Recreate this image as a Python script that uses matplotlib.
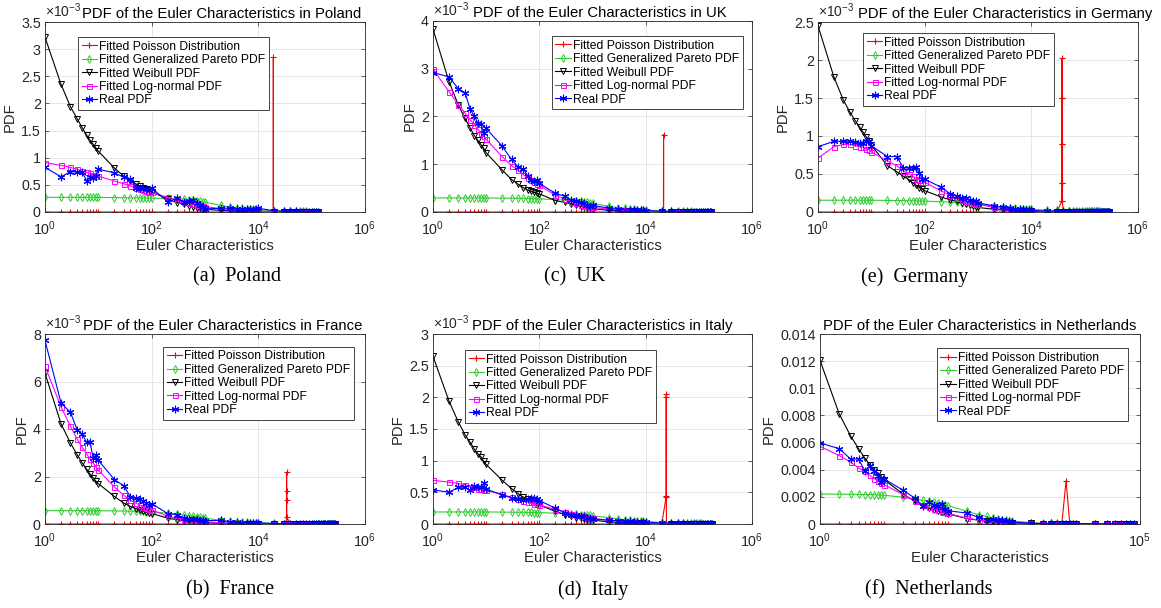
import matplotlib
matplotlib.use("Agg")
import matplotlib.pyplot as plt
from matplotlib.ticker import FixedLocator, FuncFormatter, NullLocator, LogFormatterMathtext

plt.rcParams['font.family'] = ['Liberation Sans', 'DejaVu Sans']
plt.rcParams['mathtext.fontset'] = 'custom'
plt.rcParams['mathtext.rm'] = 'Liberation Sans'
plt.rcParams['mathtext.it'] = 'Liberation Sans:italic'
plt.rcParams['mathtext.bf'] = 'Liberation Sans:bold'

# Euler characteristic bins shared by every country (up to 1e4)
X_HEAD = [1, 2, 3, 4, 5, 6, 7, 8, 9, 10,
          20, 30, 40, 50, 60, 70, 80, 90, 100,
          200, 300, 400, 500, 600, 700, 800, 900, 1000,
          2000, 3000, 4000, 5000, 6000, 7000, 8000, 9000, 10000]

# ---------------- Poland (PDF values in 1e-3) ----------------
PL_TAIL = [20000, 30000, 40000, 50000, 60000, 70000, 80000, 90000, 100000,
           110000, 120000, 130000]
PL_POIS_X = [19000, 19100, 19200]
PL_POIS_Y = [0.0, 2.85, 0.0]
PL_GP = [0.27, 0.27, 0.27, 0.27, 0.27, 0.27, 0.27, 0.27, 0.27, 0.27,
         0.265, 0.265, 0.26, 0.26, 0.26, 0.26, 0.255, 0.255, 0.255,
         0.25, 0.245, 0.24, 0.23, 0.22, 0.21, 0.20, 0.19, 0.18,
         0.12, 0.09, 0.075, 0.065, 0.058, 0.052, 0.047, 0.043, 0.040,
         0.025, 0.019, 0.016, 0.014, 0.012, 0.011, 0.010, 0.009, 0.0085, 0.008, 0.0075, 0.007]
PL_WBL = [3.22, 2.35, 1.94, 1.72, 1.55, 1.42, 1.32, 1.25, 1.18, 1.12,
          0.81, 0.66, 0.58, 0.52, 0.48, 0.45, 0.42, 0.40, 0.37,
          0.24, 0.17, 0.14, 0.11, 0.09, 0.08, 0.07, 0.06, 0.05,
          0.03, 0.02, 0.015, 0.012, 0.010, 0.008, 0.007, 0.006, 0.005,
          0.003, 0.002, 0.0015, 0.001, 0.001, 0.0008, 0.0007, 0.0006, 0.0005, 0.0005, 0.0004, 0.0004]
PL_LN = [0.91, 0.86, 0.82, 0.79, 0.75, 0.73, 0.71, 0.69, 0.67, 0.66,
         0.57, 0.52, 0.48, 0.45, 0.42, 0.40, 0.39, 0.37, 0.36,
         0.27, 0.22, 0.19, 0.17, 0.15, 0.13, 0.12, 0.11, 0.10,
         0.06, 0.045, 0.035, 0.030, 0.025, 0.022, 0.019, 0.017, 0.015,
         0.008, 0.005, 0.004, 0.003, 0.0025, 0.002, 0.0018, 0.0015, 0.0013, 0.0012, 0.001, 0.001]
PL_REAL = [0.82, 0.65, 0.74, 0.74, 0.73, 0.58, 0.64, 0.62, 0.66, 0.79,
           0.72, 0.64, 0.61, 0.45, 0.44, 0.44, 0.42, 0.40, 0.44,
           0.19, 0.25, 0.19, 0.20, 0.22, 0.17, 0.13, 0.09, 0.055,
           0.07, 0.07, 0.06, 0.06, 0.055, 0.05, 0.045, 0.05, 0.07,
           0.02, 0.015, 0.012, 0.010, 0.008, 0.007, 0.006, 0.005, 0.005, 0.004, 0.004, 0.003]

# ---------------- UK ----------------
UK_TAIL = [20000, 30000, 40000, 50000, 60000, 70000, 80000, 90000, 100000,
           110000, 120000, 130000, 140000, 150000, 160000, 170000]
UK_POIS_X = [21600, 21700, 21800]
UK_POIS_Y = [0.0, 1.62, 0.0]
UK_GP = [0.295, 0.295, 0.295, 0.295, 0.295, 0.295, 0.295, 0.295, 0.295, 0.295,
         0.29, 0.29, 0.285, 0.285, 0.28, 0.28, 0.28, 0.275, 0.275,
         0.26, 0.25, 0.24, 0.23, 0.22, 0.21, 0.20, 0.19, 0.18,
         0.12, 0.09, 0.075, 0.065, 0.058, 0.052, 0.047, 0.043, 0.040,
         0.025, 0.019, 0.016, 0.014, 0.012, 0.011, 0.010, 0.009, 0.0085, 0.008, 0.0075, 0.007,
         0.0068, 0.0065, 0.0062, 0.006]
UK_WBL = [3.83, 2.73, 2.24, 1.96, 1.76, 1.60, 1.50, 1.41, 1.33, 1.24,
          0.88, 0.68, 0.58, 0.51, 0.46, 0.43, 0.41, 0.39, 0.38,
          0.24, 0.20, 0.17, 0.14, 0.12, 0.10, 0.09, 0.08, 0.07,
          0.035, 0.025, 0.018, 0.014, 0.012, 0.010, 0.008, 0.007, 0.006,
          0.003, 0.002, 0.0015, 0.001, 0.001, 0.0008, 0.0007, 0.0006, 0.0005, 0.0005, 0.0004, 0.0004,
          0.0003, 0.0003, 0.0003, 0.0002]
UK_LN = [2.99, 2.52, 2.25, 2.07, 1.93, 1.83, 1.73, 1.65, 1.59, 1.52,
         1.16, 0.97, 0.87, 0.78, 0.72, 0.66, 0.63, 0.59, 0.56,
         0.35, 0.27, 0.21, 0.18, 0.15, 0.13, 0.12, 0.11, 0.10,
         0.06, 0.04, 0.032, 0.027, 0.023, 0.020, 0.018, 0.016, 0.015,
         0.008, 0.005, 0.004, 0.003, 0.0025, 0.002, 0.0018, 0.0015, 0.0013, 0.0012, 0.001, 0.001,
         0.0009, 0.0008, 0.0008, 0.0007]
UK_REAL = [2.92, 2.83, 2.58, 2.50, 2.15, 2.01, 1.86, 1.84, 1.65, 1.75,
           1.38, 1.10, 0.94, 0.90, 0.76, 0.66, 0.65, 0.68, 0.60,
           0.39, 0.33, 0.25, 0.23, 0.20, 0.18, 0.15, 0.12, 0.14,
           0.08, 0.06, 0.05, 0.05, 0.04, 0.04, 0.035, 0.035, 0.03,
           0.015, 0.012, 0.010, 0.008, 0.007, 0.006, 0.005, 0.005, 0.004, 0.004, 0.004, 0.003,
           0.003, 0.003, 0.002, 0.002]

# ---------------- Germany ----------------
DE_TAIL = [20000, 30000, 40000, 50000, 60000, 70000, 80000, 90000, 100000,
           110000, 120000, 130000, 140000, 150000, 160000, 170000, 180000, 190000,
           200000, 210000, 220000, 230000, 240000, 250000, 260000, 270000, 280000, 290000]
DE_POIS_X = [37200, 37300, 37400, 37500, 37600, 37700, 37800, 37900, 38000]
DE_POIS_Y = [0.14, 0.38, 0.90, 1.50, 2.02, 1.50, 0.90, 0.38, 0.14]
DE_GP = [0.155, 0.155, 0.155, 0.155, 0.155, 0.155, 0.155, 0.155, 0.155, 0.155,
         0.152, 0.150, 0.150, 0.148, 0.147, 0.146, 0.145, 0.144, 0.143,
         0.135, 0.130, 0.125, 0.120, 0.115, 0.110, 0.107, 0.103, 0.100,
         0.080, 0.065, 0.057, 0.050, 0.046, 0.042, 0.039, 0.037, 0.035,
         0.025, 0.020, 0.017, 0.015, 0.013, 0.012, 0.011, 0.010, 0.0095, 0.009, 0.0085, 0.008,
         0.0078, 0.0075, 0.0072, 0.007, 0.0068, 0.0066, 0.0064, 0.0062, 0.006, 0.0058,
         0.0056, 0.0055, 0.0054, 0.0053, 0.0052, 0.005]
DE_WBL = [2.45, 1.77, 1.47, 1.31, 1.20, 1.12, 1.05, 0.99, 0.93, 0.88,
          0.61, 0.53, 0.47, 0.43, 0.38, 0.35, 0.32, 0.30, 0.28,
          0.20, 0.16, 0.14, 0.12, 0.10, 0.09, 0.08, 0.07, 0.06,
          0.035, 0.025, 0.020, 0.015, 0.012, 0.010, 0.009, 0.008, 0.007,
          0.003, 0.002, 0.0015, 0.001, 0.001, 0.0008, 0.0007, 0.0006, 0.0005, 0.0005, 0.0004, 0.0004,
          0.0003, 0.0003, 0.0003, 0.0003, 0.0002, 0.0002, 0.0002, 0.0002, 0.0002,
          0.0001, 0.0001, 0.0001, 0.0001, 0.0001, 0.0001, 0.0001]
DE_LN = [0.71, 0.86, 0.89, 0.89, 0.87, 0.86, 0.85, 0.83, 0.82, 0.79,
         0.67, 0.61, 0.54, 0.50, 0.47, 0.44, 0.42, 0.40, 0.39,
         0.28, 0.22, 0.18, 0.16, 0.14, 0.13, 0.12, 0.11, 0.10,
         0.06, 0.045, 0.035, 0.030, 0.025, 0.022, 0.020, 0.018, 0.016,
         0.009, 0.006, 0.0045, 0.0035, 0.003, 0.0025, 0.002, 0.0018, 0.0016, 0.0015, 0.0014, 0.0013,
         0.0012, 0.0011, 0.001, 0.001, 0.0009, 0.0009, 0.0008, 0.0008, 0.0008,
         0.0007, 0.0007, 0.0007, 0.0006, 0.0006, 0.0006, 0.0006]
DE_REAL = [0.86, 0.93, 0.93, 0.93, 0.92, 0.91, 0.91, 0.93, 0.93, 0.87,
           0.73, 0.73, 0.58, 0.58, 0.58, 0.59, 0.51, 0.44, 0.43,
           0.33, 0.24, 0.21, 0.19, 0.18, 0.16, 0.15, 0.14, 0.12,
           0.08, 0.06, 0.05, 0.045, 0.04, 0.035, 0.03, 0.025, 0.02,
           0.012, 0.01, 0.008, 0.007, 0.006, 0.005, 0.005, 0.004, 0.004, 0.004, 0.003, 0.003,
           0.003, 0.003, 0.002, 0.002, 0.002, 0.002, 0.002, 0.002,
           0.001, 0.001, 0.001, 0.001, 0.001, 0.001, 0.001, 0.001]

# ---------------- France ----------------
FR_TAIL = [20000, 30000, 40000, 50000, 60000, 70000, 80000, 90000, 100000,
           110000, 120000, 130000, 140000, 150000, 160000, 170000, 180000, 190000,
           200000, 210000, 220000, 230000, 240000, 250000, 260000, 270000]
FR_POIS_X = [33700, 33800, 33900, 34000, 34100]
FR_POIS_Y = [0.14, 1.02, 2.18, 1.38, 0.28]
FR_GP = [0.56, 0.56, 0.56, 0.56, 0.56, 0.56, 0.56, 0.56, 0.56, 0.56,
         0.55, 0.55, 0.54, 0.54, 0.53, 0.53, 0.52, 0.52, 0.51,
         0.46, 0.42, 0.38, 0.35, 0.32, 0.30, 0.28, 0.26, 0.25,
         0.15, 0.11, 0.09, 0.075, 0.065, 0.058, 0.052, 0.047, 0.043,
         0.025, 0.019, 0.016, 0.014, 0.012, 0.011, 0.010, 0.009, 0.0085, 0.008, 0.0075, 0.007,
         0.0068, 0.0065, 0.0062, 0.006, 0.0058, 0.0056, 0.0055, 0.0054, 0.0053, 0.0052,
         0.0051, 0.005, 0.0049, 0.0048]
FR_WBL = [6.35, 4.22, 3.41, 2.92, 2.57, 2.32, 2.10, 1.94, 1.80, 1.70,
          1.16, 0.88, 0.74, 0.65, 0.59, 0.54, 0.50, 0.47, 0.44,
          0.25, 0.18, 0.14, 0.12, 0.10, 0.09, 0.08, 0.07, 0.06,
          0.03, 0.02, 0.015, 0.012, 0.010, 0.008, 0.007, 0.006, 0.005,
          0.003, 0.002, 0.0015, 0.001, 0.001, 0.0008, 0.0007, 0.0006, 0.0005, 0.0005, 0.0004, 0.0004,
          0.0003, 0.0003, 0.0003, 0.0003, 0.0002, 0.0002, 0.0002, 0.0002, 0.0002,
          0.0001, 0.0001, 0.0001, 0.0001, 0.0001]
FR_LN = [6.64, 4.93, 4.11, 3.58, 3.23, 2.95, 2.74, 2.57, 2.40, 2.26,
         1.56, 1.21, 1.00, 0.88, 0.80, 0.73, 0.68, 0.63, 0.59,
         0.33, 0.24, 0.19, 0.16, 0.14, 0.12, 0.11, 0.10, 0.09,
         0.05, 0.035, 0.028, 0.023, 0.020, 0.017, 0.015, 0.014, 0.013,
         0.007, 0.0045, 0.0035, 0.003, 0.0025, 0.002, 0.0018, 0.0016, 0.0015, 0.0014, 0.0013, 0.0012,
         0.0011, 0.001, 0.001, 0.0009, 0.0009, 0.0008, 0.0008, 0.0008,
         0.0007, 0.0007, 0.0007, 0.0006, 0.0006, 0.0006]
FR_REAL = [7.73, 5.09, 4.70, 3.97, 3.79, 3.44, 3.44, 2.78, 2.89, 2.68,
           1.87, 1.61, 1.14, 1.09, 1.05, 0.95, 0.88, 0.80, 0.86,
           0.44, 0.39, 0.24, 0.21, 0.20, 0.20, 0.17, 0.16, 0.14,
           0.15, 0.08, 0.07, 0.06, 0.06, 0.05, 0.05, 0.05, 0.05,
           0.02, 0.015, 0.012, 0.01, 0.008, 0.007, 0.006, 0.005, 0.005, 0.004, 0.004, 0.004,
           0.003, 0.003, 0.003, 0.003, 0.002, 0.002, 0.002, 0.002, 0.002, 0.002,
           0.001, 0.001, 0.001, 0.001]

# ---------------- Italy ----------------
IT_TAIL = [20000, 30000, 40000, 50000, 60000, 70000, 80000, 90000, 100000,
           110000, 120000, 130000, 140000, 150000, 160000, 170000, 180000]
IT_POIS_X = [24200, 24300, 24400, 24500, 24600]
IT_POIS_Y = [0.42, 2.00, 2.05, 0.45, 0.0]
IT_GP = [0.19, 0.19, 0.19, 0.19, 0.19, 0.19, 0.19, 0.19, 0.19, 0.19,
         0.188, 0.186, 0.185, 0.184, 0.183, 0.182, 0.181, 0.180, 0.180,
         0.170, 0.165, 0.160, 0.155, 0.150, 0.145, 0.140, 0.135, 0.130,
         0.100, 0.080, 0.068, 0.060, 0.053, 0.048, 0.044, 0.041, 0.038,
         0.025, 0.019, 0.016, 0.014, 0.012, 0.011, 0.010, 0.009, 0.0085, 0.008, 0.0075, 0.007,
         0.0068, 0.0065, 0.0062, 0.006, 0.0058]
IT_WBL = [2.65, 1.94, 1.61, 1.41, 1.29, 1.18, 1.11, 1.06, 0.99, 0.94,
          0.69, 0.56, 0.48, 0.42, 0.39, 0.36, 0.34, 0.32, 0.30,
          0.20, 0.15, 0.12, 0.10, 0.09, 0.08, 0.07, 0.065, 0.06,
          0.035, 0.025, 0.020, 0.015, 0.012, 0.010, 0.009, 0.008, 0.007,
          0.003, 0.002, 0.0015, 0.001, 0.001, 0.0008, 0.0007, 0.0006, 0.0005, 0.0005, 0.0004, 0.0004,
          0.0003, 0.0003, 0.0003, 0.0003, 0.0002]
IT_LN = [0.69, 0.66, 0.64, 0.62, 0.59, 0.58, 0.56, 0.55, 0.54, 0.53,
         0.47, 0.42, 0.39, 0.37, 0.35, 0.34, 0.32, 0.31, 0.30,
         0.23, 0.19, 0.16, 0.14, 0.13, 0.12, 0.11, 0.10, 0.09,
         0.06, 0.045, 0.035, 0.030, 0.026, 0.023, 0.020, 0.018, 0.016,
         0.009, 0.006, 0.0045, 0.0035, 0.003, 0.0025, 0.002, 0.0018, 0.0016, 0.0015, 0.0014, 0.0013,
         0.0012, 0.0011, 0.001, 0.001, 0.0009]
IT_REAL = [0.54, 0.50, 0.58, 0.58, 0.53, 0.60, 0.59, 0.58, 0.64, 0.55,
           0.46, 0.41, 0.39, 0.38, 0.39, 0.41, 0.41, 0.39, 0.37,
           0.25, 0.18, 0.15, 0.14, 0.13, 0.12, 0.10, 0.09, 0.08,
           0.06, 0.05, 0.045, 0.04, 0.035, 0.035, 0.03, 0.03, 0.03,
           0.015, 0.012, 0.01, 0.008, 0.007, 0.006, 0.005, 0.005, 0.004, 0.004, 0.004, 0.003,
           0.003, 0.003, 0.002, 0.002, 0.002]

# ---------------- Netherlands ----------------
NL_TAIL = [20000, 30000, 40000, 50000, 60000, 70000, 80000]
NL_POIS_X = [7000]
NL_POIS_Y = [3.2]
NL_GP = [2.21, 2.20, 2.19, 2.18, 2.17, 2.16, 2.15, 2.14, 2.13, 2.12,
         1.97, 1.84, 1.74, 1.67, 1.60, 1.55, 1.50, 1.43, 1.35,
         0.93, 0.69, 0.56, 0.44, 0.37, 0.32, 0.28, 0.25, 0.22,
         0.10, 0.07, 0.055, 0.045, 0.040, 0.035, 0.030, 0.028, 0.025,
         0.015, 0.011, 0.009, 0.008, 0.007, 0.0065, 0.006]
NL_WBL = [12.06, 8.10, 6.50, 5.55, 4.87, 4.37, 4.00, 3.76, 3.50, 3.27,
          2.20, 1.67, 1.35, 1.18, 1.05, 0.95, 0.87, 0.80, 0.74,
          0.40, 0.28, 0.20, 0.16, 0.13, 0.11, 0.10, 0.09, 0.08,
          0.04, 0.025, 0.02, 0.015, 0.012, 0.01, 0.009, 0.008, 0.007,
          0.003, 0.002, 0.0015, 0.001, 0.001, 0.0008, 0.0007]
NL_LN = [5.72, 5.04, 4.57, 4.13, 3.88, 3.59, 3.34, 3.20, 3.00, 2.90,
         2.16, 1.72, 1.43, 1.25, 1.12, 1.00, 0.92, 0.85, 0.78,
         0.42, 0.30, 0.22, 0.18, 0.15, 0.13, 0.11, 0.10, 0.09,
         0.05, 0.035, 0.027, 0.022, 0.019, 0.016, 0.014, 0.013, 0.012,
         0.006, 0.004, 0.003, 0.0025, 0.002, 0.0018, 0.0015]
NL_REAL = [5.97, 5.55, 4.79, 4.79, 3.93, 4.25, 3.93, 3.56, 3.10, 3.32,
           2.48, 1.92, 1.35, 1.60, 1.43, 1.30, 1.50, 1.13, 0.98,
           0.80, 0.49, 0.32, 0.35, 0.30, 0.28, 0.25, 0.20, 0.15,
           0.05, 0.03, 0.04, 0.03, 0.02, 0.03, 0.02, 0.02, 0.02,
           0.02, 0.015, 0.01, 0.01, 0.008, 0.006, 0.005]

LEGEND_LABELS = ['Fitted Poisson Distribution', 'Fitted Generalized Pareto PDF',
                 'Fitted Weibull PDF', 'Fitted Log-normal PDF', 'Real PDF']

AX_COLOR = '#262626'
W, H = 1161, 608


def px_rect(left, top, right, bottom):
    return [left / W, 1 - bottom / H, (right - left) / W, (bottom - top) / H]


def plot_country(fig, rect, name, caption, cap_xy, tail, pois_x, pois_y,
                 gp, wbl, ln, real, ymax, ystep, xmax, xticks, exp_label,
                 title_x, legend_xy):
    ax = fig.add_axes(rect)
    x = X_HEAD + tail
    scale = 1.0 if exp_label else 1e-3

    # Poisson is zero on every bin except a narrow spike round its mean
    px = sorted(set(x) | set(pois_x))
    spike = dict(zip(pois_x, pois_y))
    py = [spike.get(v, 0.0) * scale for v in px]

    lw, ms = 0.8, 4.2
    ax.plot(px, py, color='#ff0000', marker='+', ms=ms + 0.6, lw=lw, mew=0.8,
            label=LEGEND_LABELS[0])
    ax.plot(x, [v * scale for v in gp], color='#33cc33', marker='d', ms=ms,
            mfc='none', mew=0.7, lw=lw, label=LEGEND_LABELS[1])
    ax.plot(x, [v * scale for v in wbl], color='black', marker='v', ms=ms,
            mfc='none', mew=0.7, lw=lw, label=LEGEND_LABELS[2])
    ax.plot(x, [v * scale for v in ln], color='#ff00ff', marker='s', ms=ms - 0.6,
            mfc='none', mew=0.7, lw=lw, label=LEGEND_LABELS[3])
    ax.plot(x, [v * scale for v in real], color='#0000ff', marker=(6, 2, 0),
            ms=ms + 1.2, mew=0.8, lw=lw, label=LEGEND_LABELS[4])

    ax.set_xscale('log')
    ax.set_xlim(1, xmax)
    ax.xaxis.set_major_locator(FixedLocator(xticks))
    ax.xaxis.set_major_formatter(LogFormatterMathtext())
    ax.xaxis.set_minor_locator(NullLocator())

    ax.set_ylim(0, ymax * scale)
    n = int(round(ymax / ystep))
    ax.yaxis.set_major_locator(FixedLocator([i * ystep * scale for i in range(n + 1)]))
    ax.yaxis.set_major_formatter(FuncFormatter(lambda v, p: f'{round(v, 6):g}'))

    ax.grid(True, color='#e3e3e3', lw=0.6)
    ax.set_axisbelow(True)
    for sp in ax.spines.values():
        sp.set_color(AX_COLOR)
        sp.set_linewidth(0.6)
    ax.tick_params(direction='in', length=3, width=0.5, top=True, right=True,
                   colors=AX_COLOR, labelsize=10.3)
    ax.tick_params(axis='x', pad=5)
    ax.tick_params(axis='y', pad=3)

    ax.set_xlabel('Euler Characteristics', fontsize=10.7, color=AX_COLOR, labelpad=1)
    ax.set_ylabel('PDF', fontsize=10.7, color=AX_COLOR, labelpad=3)
    ax.set_title(f'PDF of the Euler Characteristics in {name}', fontsize=10.7,
                 x=title_x, pad=3, color='black')
    if exp_label:
        ax.text(0.0, 1.008, r'$\times10^{-3}$', transform=ax.transAxes,
                ha='left', va='bottom', fontsize=10, color=AX_COLOR)

    leg = ax.legend(loc='upper left', bbox_to_anchor=legend_xy, borderaxespad=0,
                    fontsize=8.7, frameon=True, fancybox=False, framealpha=1,
                    edgecolor=AX_COLOR, handlelength=1.3, handletextpad=0.15,
                    borderpad=0.3, labelspacing=0.12)
    leg.get_frame().set_linewidth(0.6)

    fig.text(cap_xy[0] / W, 1 - cap_xy[1] / H, caption, ha='center', va='center',
             fontsize=14.5, family='Liberation Serif')
    return ax


fig = plt.figure(figsize=(W / 100, H / 100), dpi=100)

plot_country(fig, px_rect(45, 22, 365, 212), 'Poland', '(a)  Poland', (237, 277),
             PL_TAIL, PL_POIS_X, PL_POIS_Y, PL_GP, PL_WBL, PL_LN, PL_REAL,
             3.5, 0.5, 1e6, [1, 1e2, 1e4, 1e6], True, 0.553, (0.103, 0.921))
plot_country(fig, px_rect(433, 21, 752, 212), 'UK', '(c)  UK', (575, 277),
             UK_TAIL, UK_POIS_X, UK_POIS_Y, UK_GP, UK_WBL, UK_LN, UK_REAL,
             4.0, 1.0, 1e6, [1, 1e2, 1e4, 1e6], True, 0.524, (0.372, 0.921))
plot_country(fig, px_rect(818, 22, 1138, 212), 'Germany', '(e)  Germany', (915, 277),
             DE_TAIL, DE_POIS_X, DE_POIS_Y, DE_GP, DE_WBL, DE_LN, DE_REAL,
             2.5, 0.5, 1e6, [1, 1e2, 1e4, 1e6], True, 0.584, (0.141, 0.942))
plot_country(fig, px_rect(45, 334, 365, 524), 'France', '(b)  France', (230, 590),
             FR_TAIL, FR_POIS_X, FR_POIS_Y, FR_GP, FR_WBL, FR_LN, FR_REAL,
             8.0, 2.0, 1e6, [1, 1e2, 1e4, 1e6], True, 0.556, (0.369, 0.933))
plot_country(fig, px_rect(433, 334, 752, 524), 'Italy', '(d)  Italy', (593, 590),
             IT_TAIL, IT_POIS_X, IT_POIS_Y, IT_GP, IT_WBL, IT_LN, IT_REAL,
             3.0, 0.5, 1e6, [1, 1e2, 1e4, 1e6], True, 0.53, (0.10, 0.916))
plot_country(fig, px_rect(820, 334, 1140, 524), 'Netherlands', '(f)  Netherlands', (929, 590),
             NL_TAIL, NL_POIS_X, NL_POIS_Y, NL_GP, NL_WBL, NL_LN, NL_REAL,
             14.0, 2.0, 1e5, [1, 1e5], False, 0.5, (0.365, 0.925))

fig.savefig('out.png', dpi=100)
